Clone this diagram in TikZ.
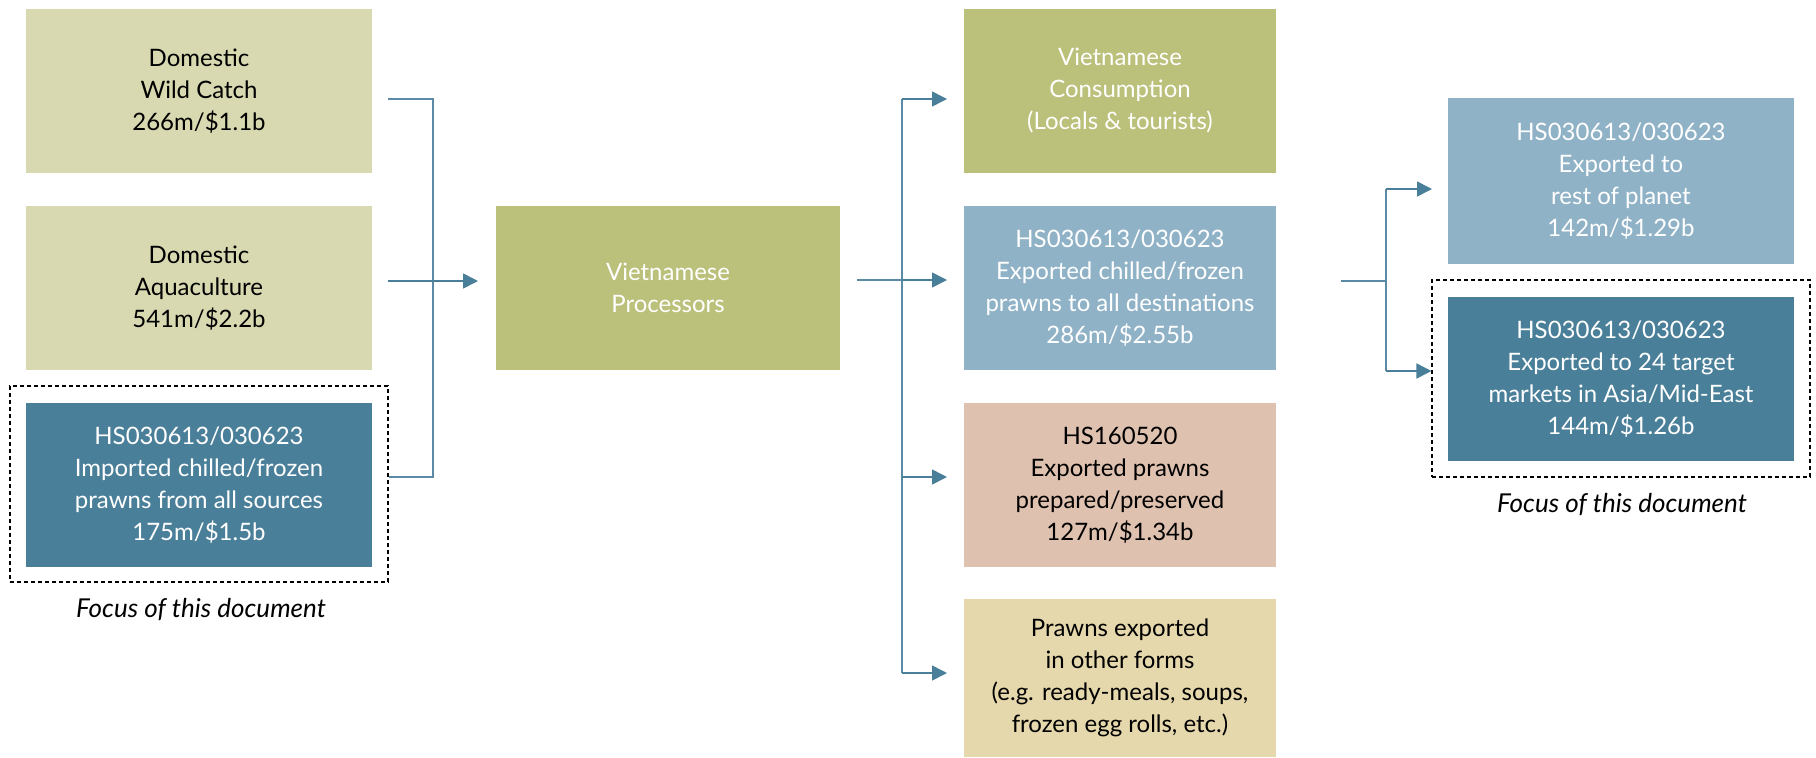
\documentclass[tikz,border=0pt]{standalone}
\usepackage{fontspec}
\setmainfont{Lato}
\usetikzlibrary{arrows.meta,positioning,calc}
\definecolor{cDom}{HTML}{D8D9B0}
\definecolor{cOlive}{HTML}{BBC07A}
\definecolor{cLBlue}{HTML}{8FB2C7}
\definecolor{cTeal}{HTML}{4A7F99}
\definecolor{cPink}{HTML}{DFC1AF}
\definecolor{cBeige}{HTML}{E6D8AD}
\definecolor{cLine}{HTML}{5A8AA5}
\tikzset{
  box/.style={rectangle, inner sep=0pt, align=center, minimum width=346pt, minimum height=164pt,
    font=\fontsize{24}{32}\selectfont},
  darktxt/.style={text=black},
  lighttxt/.style={text=white},
  focus/.style={draw=black, dashed, dash pattern=on 4pt off 3pt, line width=1.1pt},
  caption/.style={font=\fontsize{26}{32}\selectfont\itshape, inner sep=0pt},
  conn/.style={draw=cLine, line width=1.6pt},
  arr/.style={conn, -{Triangle[length=15pt,width=15pt]}, cTeal},
}
\begin{document}
\begin{tikzpicture}[x=1pt,y=-1pt]
\useasboundingbox (0,0) rectangle (1816,758);
% left column
\node[box, fill=cDom, darktxt] (d1) at (199,91) {Domestic\\Wild Catch\\266m/\$1.1b};
\node[box, fill=cDom, darktxt] (d2) at (199,288) {Domestic\\Aquaculture\\541m/\$2.2b};
\node[box, fill=cTeal, lighttxt] (imp) at (199,485) {HS030613/030623\\Imported chilled/frozen\\prawns from all sources\\175m/\$1.5b};
\node[focus, minimum width=378pt, minimum height=196pt, inner sep=0pt] (f1) at (199,484) {};
\node[caption] (c1) at (201,610) {Focus of this document};
% processors
\node[box, fill=cOlive, lighttxt, minimum width=344pt] (proc) at (668,288) {Vietnamese\\Processors};
% middle column
\node[box, fill=cOlive, lighttxt, minimum width=312pt] (cons) at (1120,91) {Vietnamese\\Consumption\\(Locals \& tourists)};
\node[box, fill=cLBlue, lighttxt, minimum width=312pt] (exp) at (1120,288) {HS030613/030623\\Exported chilled/frozen\\prawns to all destinations\\286m/\$2.55b};
\node[box, fill=cPink, darktxt, minimum width=312pt] (hs16) at (1120,485) {HS160520\\Exported prawns\\prepared/preserved\\127m/\$1.34b};
\node[box, fill=cBeige, darktxt, minimum width=312pt, minimum height=158pt] (oth) at (1120,678) {Prawns exported\\in other forms\\(e.g. ready-meals, soups,\\frozen egg rolls, etc.)};
% right column
\node[box, fill=cLBlue, lighttxt, minimum height=166pt] (rest) at (1621,181) {HS030613/030623\\Exported to\\rest of planet\\142m/\$1.29b};
\node[box, fill=cTeal, lighttxt] (tgt) at (1621,379) {HS030613/030623\\Exported to 24 target\\markets in Asia/Mid-East\\144m/\$1.26b};
\node[focus, minimum width=378pt, minimum height=197pt, inner sep=0pt] (f2) at (1621,378.5) {};
\node[caption] (c2) at (1622,505) {Focus of this document};
% left connectors
\coordinate (a1) at (388,99);
\coordinate (a2) at (388,281);
\coordinate (a3) at (f1.east |- 0,477);
\coordinate (aj) at (433,99);
\coordinate (ak) at (433,477);
\coordinate (at) at (478,281);
\draw[conn] (a1) -- (aj) -- (ak) -- (a3);
\draw[arr] (a2) -- (at);
% processors to middle
\coordinate (b0) at (857,280);
\coordinate (bt) at (902,99);
\coordinate (bb) at (902,673);
\draw[conn] (bt) -- (bb);
\draw[conn] (b0) -- (902,280);
\coordinate (m1) at (947,99);
\coordinate (m2) at (947,280);
\coordinate (m3) at (947,477);
\coordinate (m4) at (947,673);
\draw[arr] (bt) -- (m1);
\draw[arr] (902,280) -- (m2);
\draw[arr] (902,477) -- (m3);
\draw[arr] (bb) -- (m4);
% exported to right
\coordinate (e0) at (1341,281);
\coordinate (et) at (1386,189);
\coordinate (eb) at (1386,371);
\coordinate (r1) at (1432,189);
\coordinate (r2) at (f2.west |- 0,371);
\draw[conn] (e0) -- (1386,281);
\draw[conn] (et) -- (eb);
\draw[arr] (et) -- (r1);
\draw[arr] (eb) -- (r2);
\end{tikzpicture}
\end{document}
